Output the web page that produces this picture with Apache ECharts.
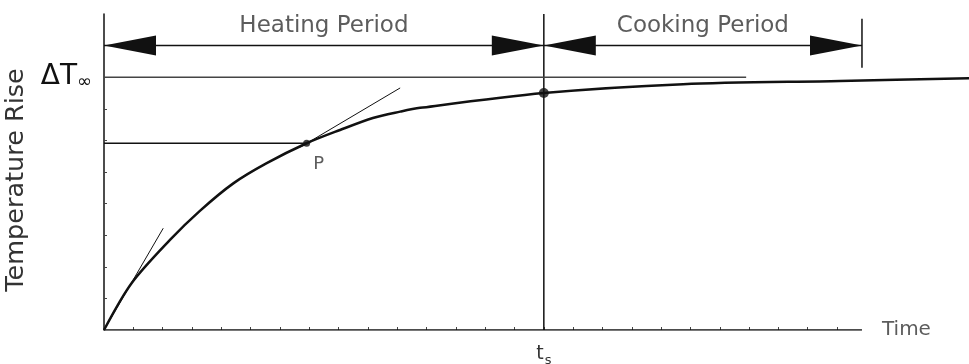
<!DOCTYPE html>
<html>
<head>
<meta charset="utf-8">
<script src="https://cdn.jsdelivr.net/npm/echarts@6/dist/echarts.min.js"></script>
<style>
html,body{margin:0;padding:0;background:#fff;}
#chart{width:969px;height:364px;}
</style>
</head>
<body>
<div id="chart"></div>
<script>
// ---- data (axis units: time ticks and rise ticks of the drawing) ----
const timeTicks = [1,2,3,4,5,6,7,8,9,10,11,12,13,14,15,16,17,18,19,20,21,22,23,24,25];
const riseTicks = [1,2,3,4,5,6,7,8,9];
const curveTime = [0, 0.94, 2.25, 3.27, 4.41, 5.55, 6.91, 8.05, 9.17, 10.1, 10.78, 15.0, 19.75, 25.1, 29.5];
const curveRise = [0, 1.48, 2.85, 3.77, 4.64, 5.28, 5.91, 6.33, 6.71, 6.91, 7.03, 7.5, 7.78, 7.88, 7.97];
const tsTime = 15;
const tsRise = 7.5;
const deltaTInf = 8;
const deltaLineEnd = 21.9;
const pointP = [6.91, 5.91];
const tangentOrigin = [[0, 0], [2.02, 3.22]];
const tangentP = [[6.7, 5.79], [10.1, 7.66]];
const periodRise = 9.0;
const axisEndTime = 25.85;
const periodTickRise = [8.3, 9.85];
const periods = [
  ['Heating Period', 0, 15],
  ['Cooking Period', 15, 25.85]
];
const xMax = 29.5, yMax = 10;

// ---- build ----
const curve = curveTime.map((t, i) => [t, curveRise[i]]);
const arrows = [];
periods.forEach(p => { arrows.push([p[1], periodRise, -1]); arrows.push([p[2], periodRise, 1]); });
const periodLabels = periods.map(p => ({ name: p[0], value: [(p[1] + p[2]) / 2, periodRise] }));

const ink = '#111';
const txt = '#333';
const FONT = 'DejaVu Sans';

function seg(data, width, color) {
  return { type: 'line', data: data, symbol: 'none', silent: true, animation: false,
    lineStyle: { color: color || ink, width: width }, z: 2 };
}

const chart = echarts.init(document.getElementById('chart'));
chart.setOption({
  animation: false,
  backgroundColor: '#fff',
  grid: { left: 104, right: 0, top: 14, bottom: 34, containLabel: false, outerBoundsMode: 'none' },
  xAxis: {
    type: 'value', min: 0, max: xMax,
    axisLine: { show: false },
    splitLine: { show: false },
    axisTick: { show: true, inside: true, length: 3, customValues: timeTicks, lineStyle: { color: '#444', width: 1 } },
    axisLabel: {
      show: true, customValues: [tsTime], margin: 12,
      formatter: () => '{a|t}{b|s}',
      rich: {
        a: { fontFamily: FONT, fontSize: 19, color: txt },
        b: { fontFamily: FONT, fontSize: 13, color: txt, padding: [12, 0, 0, 1] }
      }
    }
  },
  yAxis: {
    type: 'value', min: 0, max: yMax,
    axisLine: { show: true, lineStyle: { color: ink, width: 1.5 } },
    splitLine: { show: false },
    axisTick: { show: true, inside: true, length: 3, customValues: riseTicks, lineStyle: { color: '#444', width: 1 } },
    axisLabel: {
      show: true, customValues: [deltaTInf], margin: 12,
      formatter: () => '{a|ΔT}{b|∞}',
      rich: {
        a: { fontFamily: FONT, fontSize: 28, color: '#111' },
        b: { fontFamily: FONT, fontSize: 18, color: '#111', padding: [10, 0, 0, 0] }
      }
    },
    name: 'Temperature Rise', nameLocation: 'middle', nameGap: 67,
    nameTextStyle: { fontFamily: FONT, fontSize: 25.5, color: txt, padding: [0, 16, 0, 0] }
  },
  series: [
    seg([[0, 0], [axisEndTime, 0]], 1.5),
    seg([[tsTime, 0], [tsTime, yMax]], 1.5),
    seg([[0, deltaTInf], [deltaLineEnd, deltaTInf]], 1.5, '#444'),
    seg([[0, pointP[1]], pointP], 1.5),
    seg(tangentOrigin, 1),
    seg(tangentP, 1),
    seg([[0, periodRise], [axisEndTime, periodRise]], 1.5),
    seg([[axisEndTime, periodTickRise[0]], [axisEndTime, periodTickRise[1]]], 1.5),
    {
      type: 'line', data: curve, symbol: 'none', smooth: 0.3,
      lineStyle: { color: ink, width: 2.5 }, z: 3
    },
    {
      type: 'custom', data: arrows, z: 4,
      renderItem: function (params, api) {
        const tip = api.coord([api.value(0), api.value(1)]);
        const dir = api.value(2);
        const L = 52, H = 20;
        return {
          type: 'polygon',
          shape: { points: [tip, [tip[0] - dir * L, tip[1] - H / 2], [tip[0] - dir * L, tip[1] + H / 2]] },
          style: { fill: ink }
        };
      }
    },
    {
      type: 'scatter', data: periodLabels, symbolSize: 0, z: 5,
      label: { show: true, position: 'top', distance: 8, formatter: p => p.name,
        fontFamily: FONT, fontSize: 23, color: txt }
    },
    {
      type: 'scatter', data: [{ value: pointP, name: 'P' }], symbolSize: 7, z: 6,
      itemStyle: { color: ink },
      label: { show: true, position: 'inside', offset: [12, 21], formatter: p => p.name,
        fontFamily: FONT, fontSize: 18, color: txt }
    },
    {
      type: 'scatter', data: [[tsTime, tsRise]], symbolSize: 10, z: 6,
      itemStyle: { color: ink }
    },
    {
      type: 'scatter', data: [{ value: [axisEndTime, 0], name: 'Time' }], symbolSize: 0, z: 6,
      label: { show: true, position: 'right', distance: 20, formatter: p => p.name,
        fontFamily: FONT, fontSize: 20, color: txt }
    }
  ]
});
</script>
</body>
</html>
